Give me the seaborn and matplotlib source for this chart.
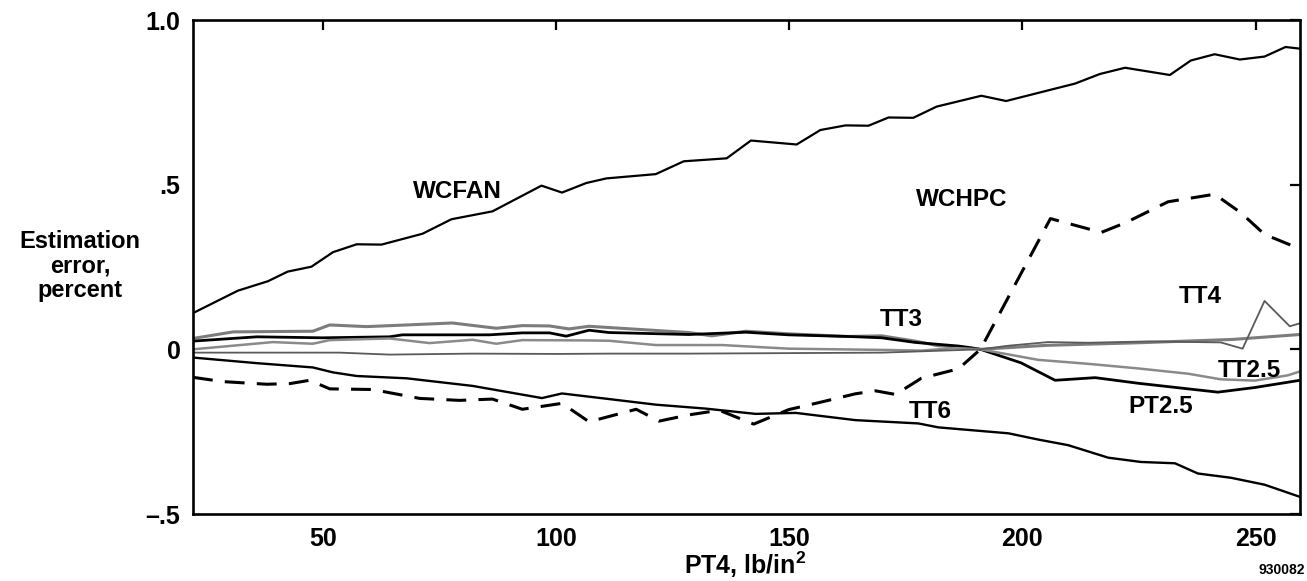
import matplotlib
matplotlib.use("Agg")
import matplotlib.pyplot as plt
import seaborn as sns
import pandas as pd

# ---------------- data ----------------
wcfan_x = [22.2, 31.8, 38.3, 42.5, 47.6, 52.2, 57.3, 62.6, 71.4, 77.6, 86.4, 96.9, 101.3, 106.5,
           110.8, 121.4, 127.4, 136.6, 141.8, 151.6, 156.7, 162.1, 167.0, 171.3, 176.6, 181.6,
           191.2, 196.5, 211.3, 216.6, 222.0, 231.6, 236.1, 241.2, 246.6, 251.9, 256.4, 259.5]
wcfan_y = [0.11, 0.178, 0.207, 0.236, 0.251, 0.295, 0.319, 0.318, 0.351, 0.395, 0.419, 0.497, 0.476,
           0.505, 0.519, 0.532, 0.571, 0.580, 0.634, 0.622, 0.666, 0.680, 0.679, 0.704, 0.703, 0.737,
           0.770, 0.754, 0.807, 0.836, 0.855, 0.833, 0.877, 0.896, 0.880, 0.889, 0.918, 0.913]

wchpc_x = [22.2, 28.6, 38.0, 43.0, 47.2, 51.5, 60.7, 70.8, 79.3, 86.4, 92.8, 101.3, 107.1, 117.2,
           122.1, 128.5, 135.0, 142.4, 149.9, 156.9, 164.2, 168.5, 172.8, 178.3, 186.3, 191.0,
           206.0, 216.9, 222.2, 231.2, 241.2, 246.8, 251.9, 259.5]
wchpc_y = [-0.085, -0.098, -0.106, -0.104, -0.094, -0.120, -0.122, -0.149, -0.155, -0.151, -0.182,
           -0.164, -0.220, -0.182, -0.218, -0.199, -0.185, -0.227, -0.183, -0.160, -0.135, -0.126,
           -0.137, -0.088, -0.059, 0.0, 0.397, 0.355, 0.385, 0.448, 0.471, 0.415, 0.349, 0.305]

tt6_x = [22.2, 35.9, 47.9, 52.2, 57.3, 68.0, 82.1, 97.0, 101.3, 111.4, 121.4, 132.1, 142.8, 151.4,
         164.2, 177.7, 182.0, 197.0, 203.4, 209.8, 218.4, 225.4, 232.7, 237.6, 244.7, 251.9, 259.5]
tt6_y = [-0.025, -0.042, -0.055, -0.070, -0.081, -0.088, -0.111, -0.148, -0.134, -0.151, -0.168,
         -0.180, -0.196, -0.193, -0.215, -0.225, -0.237, -0.255, -0.274, -0.291, -0.329, -0.342,
         -0.346, -0.377, -0.390, -0.411, -0.448]

tt3_x = [22.2, 30.8, 47.9, 51.5, 59.4, 68.0, 77.8, 87.2, 92.8, 98.6, 102.8, 107.1, 128.5, 133.4,
         140.7, 149.9, 162.7, 169.8, 177.0, 181.9, 188.3, 191.0, 205.0, 225.0, 245.0, 259.5]
tt3_y = [0.033, 0.053, 0.055, 0.074, 0.069, 0.074, 0.080, 0.064, 0.072, 0.071, 0.062, 0.070, 0.051,
         0.041, 0.055, 0.047, 0.039, 0.041, 0.025, 0.011, 0.006, 0.0, 0.012, 0.02, 0.03, 0.045]

pt25_x = [22.2, 35.9, 50.0, 64.3, 67.1, 85.7, 92.8, 98.6, 102.2, 107.1, 111.4, 128.5, 140.7, 149.9,
          162.7, 169.8, 177.0, 186.3, 191.0, 199.7, 207.0, 215.6, 224.8, 235.5, 241.9, 249.8, 259.5]
pt25_y = [0.025, 0.038, 0.035, 0.038, 0.044, 0.044, 0.050, 0.050, 0.040, 0.058, 0.051, 0.045, 0.052,
          0.044, 0.039, 0.035, 0.021, 0.010, 0.0, -0.041, -0.094, -0.086, -0.103, -0.120, -0.130,
          -0.116, -0.094]

tt25_x = [22.2, 39.3, 47.9, 51.5, 64.3, 72.9, 82.1, 87.2, 92.8, 107.1, 111.4, 121.4, 135.6, 149.9,
          171.3, 178.3, 185.6, 191.0, 203.4, 214.1, 224.8, 235.5, 242.5, 249.8, 256.9, 259.5]
tt25_y = [0.0, 0.022, 0.017, 0.028, 0.033, 0.019, 0.029, 0.017, 0.028, 0.027, 0.026, 0.013, 0.013,
          0.002, -0.002, -0.004, 0.004, 0.0, -0.032, -0.044, -0.058, -0.074, -0.091, -0.095,
          -0.079, -0.067]

tt4_x = [22.2, 35.9, 53.6, 64.3, 82.1, 100.1, 111.4, 128.5, 142.8, 170.0, 191.0, 197.0, 205.5,
         214.1, 226.9, 242.5, 247.2, 251.9, 257.3, 259.5]
tt4_y = [-0.010, -0.010, -0.010, -0.016, -0.013, -0.014, -0.013, -0.013, -0.012, -0.010, 0.0, 0.011,
         0.022, 0.020, 0.024, 0.021, 0.002, 0.147, 0.070, 0.079]

series_names = ["WCFAN", "WCHPC", "TT6", "TT3", "PT2.5", "TT2.5", "TT4"]

label_names = ["WCFAN", "WCHPC", "TT3", "TT4", "TT2.5", "PT2.5", "TT6"]
label_x = [78.9, 186.9, 174.1, 238.2, 248.7, 229.7, 180.3]
label_y = [0.478, 0.456, 0.091, 0.159, -0.064, -0.173, -0.19]

x_ticks = [50, 100, 150, 200, 250]
x_tick_labels = ["50", "100", "150", "200", "250"]
y_ticks = [-0.5, 0.0, 0.5, 1.0]
y_tick_labels = ["\u2013.5", "0", ".5", "1.0"]

# ---------------- build long table ----------------
frames = []
for name, xs, ys in [("WCFAN", wcfan_x, wcfan_y), ("WCHPC", wchpc_x, wchpc_y),
                     ("TT6", tt6_x, tt6_y), ("TT3", tt3_x, tt3_y), ("PT2.5", pt25_x, pt25_y),
                     ("TT2.5", tt25_x, tt25_y), ("TT4", tt4_x, tt4_y)]:
    frames.append(pd.DataFrame({"x": xs, "y": ys, "series": name}))
df = pd.concat(frames, ignore_index=True)

palette = {"WCFAN": "black", "WCHPC": "black", "TT6": "black", "TT3": "#7c7c7c",
           "PT2.5": "black", "TT2.5": "#8a8a8a", "TT4": "#5a5a5a"}
sizes = {"WCFAN": 1.6, "WCHPC": 2.2, "TT6": 1.7, "TT3": 2.2, "PT2.5": 2.0,
         "TT2.5": 1.8, "TT4": 1.3}
dashes = {"WCFAN": "", "WCHPC": (6.5, 4), "TT6": "", "TT3": "", "PT2.5": "",
          "TT2.5": "", "TT4": ""}

# ---------------- figure ----------------
sns.set_style("white")
plt.rcParams["font.family"] = ["Liberation Sans", "DejaVu Sans"]
plt.rcParams["font.weight"] = "bold"
plt.rcParams["text.color"] = "black"
plt.rcParams["xtick.color"] = "black"
plt.rcParams["ytick.color"] = "black"
plt.rcParams["xtick.labelcolor"] = "black"
plt.rcParams["ytick.labelcolor"] = "black"
plt.rcParams["mathtext.fontset"] = "custom"
plt.rcParams["mathtext.rm"] = "Liberation Sans:bold"
plt.rcParams["mathtext.bf"] = "Liberation Sans:bold"
plt.rcParams["mathtext.default"] = "rm"

W, H = 1307, 581
fig = plt.figure(figsize=(W / 100, H / 100), dpi=100)
ax = fig.add_axes([193 / W, 1 - 514 / H, (1300 - 193) / W, (514 - 20) / H])

sns.lineplot(data=df, x="x", y="y", hue="series", size="series", style="series",
             hue_order=series_names, size_order=series_names, style_order=series_names,
             palette=palette, sizes=sizes, dashes=dashes, estimator=None, sort=False,
             legend=False, ax=ax)

ax.set_xlim(22.2, 259.5)
ax.set_ylim(-0.5, 1.0)
ax.set_xticks(x_ticks)
ax.set_xticklabels(x_tick_labels)
ax.set_yticks(y_ticks)
ax.set_yticklabels(y_tick_labels)
ax.set_xlabel("")
ax.set_ylabel("")
ax.tick_params(direction="in", length=7, width=1.6, top=True, right=True,
               labelsize=18, pad=9, colors="black", labelcolor="black")
for lab in ax.get_xticklabels() + ax.get_yticklabels():
    lab.set_fontweight("bold")
    lab.set_color("black")
for sp in ax.spines.values():
    sp.set_linewidth(1.9)
    sp.set_color("black")

for name, lx, ly in zip(label_names, label_x, label_y):
    ax.text(lx, ly, name, ha="center", va="center", fontsize=17.5, fontweight="bold",
            color="black")

fig.text(80 / W, 1 - 266 / H, "Estimation\nerror,\npercent", ha="center", va="center",
         fontsize=17, fontweight="bold", linespacing=1.1, color="black")
fig.text(745 / W, 1 - 565 / H, r"PT4, lb/in$^{2}$", ha="center", va="center",
         fontsize=18, fontweight="bold", color="black")
fig.text(1282 / W, 1 - 570 / H, "930082", ha="center", va="center", fontsize=10,
         fontweight="bold", color="black")

fig.savefig("out.png", dpi=100, facecolor="white")
